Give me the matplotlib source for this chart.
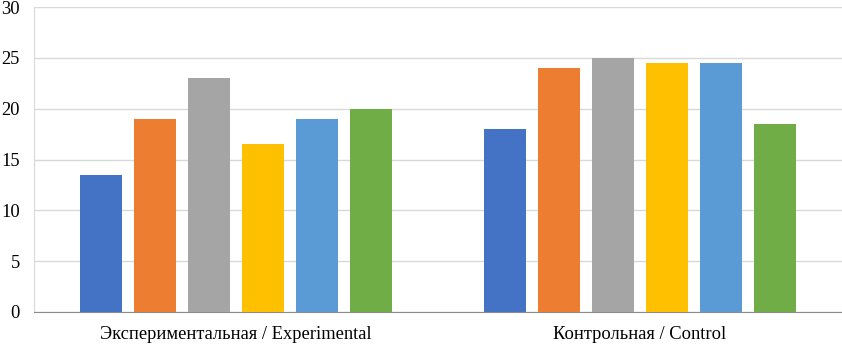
import numpy as np
import matplotlib.pyplot as plt

# ============================================================
# DATA
# ============================================================

groups = ["Экспериментальная / Experimental", "Контрольная / Control"]

series_1 = [13.5, 18.0]
series_2 = [19.0, 24.0]
series_3 = [23.0, 25.0]
series_4 = [16.5, 24.5]
series_5 = [19.0, 24.5]
series_6 = [20.0, 18.5]

colors = ["#4472C4", "#ED7D31", "#A5A5A5", "#FFC000", "#5B9BD5", "#70AD47"]

# ============================================================
# PLOT
# ============================================================

plt.rcParams["font.family"] = ["Liberation Serif", "DejaVu Serif"]

fig = plt.figure(figsize=(8.42, 3.44), dpi=100)
ax = fig.add_axes([34 / 842, 32 / 344, 808 / 842, 305 / 344])

x = np.arange(len(groups))
all_series = [series_1, series_2, series_3, series_4, series_5, series_6]
step = 0.1337
width = 0.104

for i, (vals, col) in enumerate(zip(all_series, colors)):
    offset = (i - 2.5) * step
    ax.bar(x + offset, vals, width=width, color=col, zorder=3)

ax.set_xlim(-0.5, 1.5)
ax.set_ylim(0, 30)
ax.set_yticks(np.arange(0, 31, 5))
ax.set_xticks(x)
ax.set_xticklabels(groups)

ax.grid(axis="y", color="#D9D9D9", linewidth=1.0, zorder=0)
ax.tick_params(axis="both", length=0, labelsize=13.3)
ax.tick_params(axis="y", pad=10)
ax.tick_params(axis="x", pad=10)

for side in ["top", "right"]:
    ax.spines[side].set_visible(False)
ax.spines["left"].set_color("#D9D9D9")
ax.spines["bottom"].set_color("#8C8C8C")

fig.savefig("out.png", dpi=100)
